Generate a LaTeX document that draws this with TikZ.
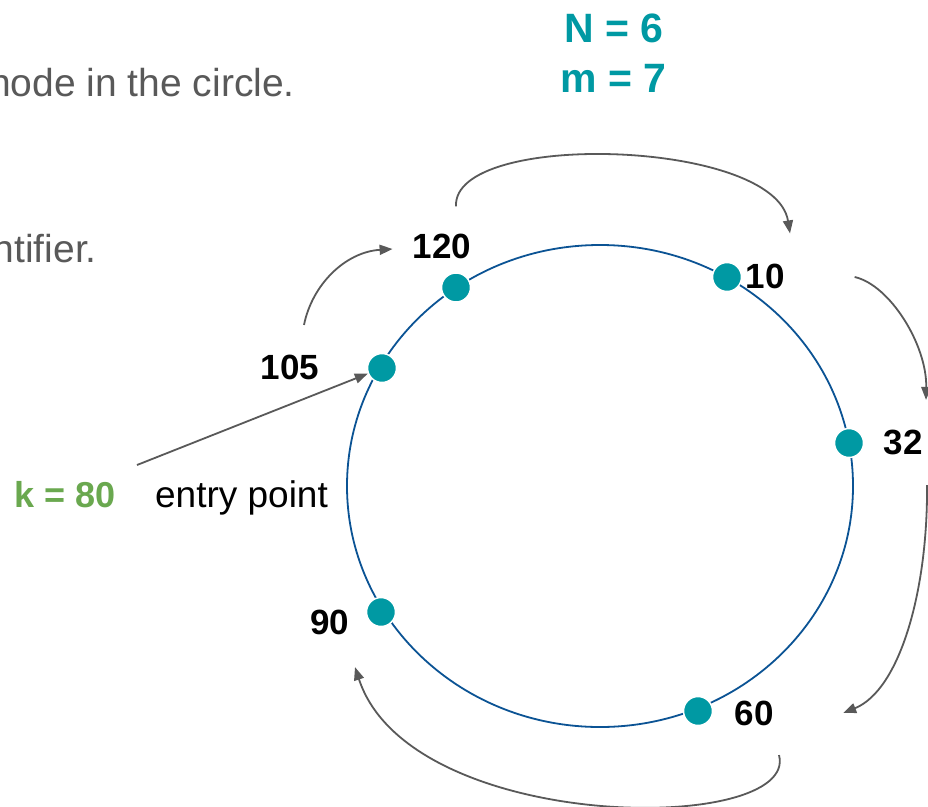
\documentclass[tikz,border=0pt]{standalone}
\usepackage{fontspec}
\setmainfont{Liberation Sans}
\usetikzlibrary{arrows.meta,calc}
\definecolor{dotteal}{HTML}{0099A3}
\definecolor{ringblue}{HTML}{0B5394}
\definecolor{keygreen}{HTML}{6AA84F}
\definecolor{textgray}{HTML}{595959}
\definecolor{arrowgray}{HTML}{595959}
\tikzset{
  dotnode/.style={circle, fill=dotteal, draw=white, line width=1.5pt, minimum size=29pt, inner sep=0pt},
  idlabel/.style={font=\fontsize{35}{35}\selectfont\bfseries, inner sep=0pt, text=black},
  paramtext/.style={font=\fontsize{41}{41}\selectfont\bfseries, inner sep=0pt, text=dotteal, anchor=base},
  graytext/.style={font=\fontsize{39}{39}\selectfont, inner sep=0pt, text=textgray, anchor=base east},
  link/.style={draw=arrowgray, line width=1.8pt, -{Triangle[length=13pt,width=10pt]}},
  ring/.style={draw=ringblue, line width=1.8pt}
}
\begin{document}
\begin{tikzpicture}[x=1pt,y=-1pt]
\useasboundingbox (0,0) rectangle (928,806);
\fill[white] (0,0) rectangle (928,806);

% background text (clipped at the left edge)
\node[graytext] (txtA) at (295,96) {node in the circle.};
\node[graytext] (txtB) at (97,262) {ntifier.};

% parameters
\node[paramtext] (pN) at (614,42) {N = 6};
\node[paramtext] (pm) at (613.5,92) {m = 7};

% ring
\draw[ring] (600,486) ellipse [x radius=253pt, y radius=241pt];

% nodes on the ring
\node[dotnode] (d120) at (456,287.5) {};
\node[dotnode] (d10)  at (727,277) {};
\node[dotnode] (d32)  at (849,443) {};
\node[dotnode] (d60)  at (698,711) {};
\node[dotnode] (d90)  at (381,612) {};
\node[dotnode] (d105) at (382,368) {};

% labels
\node[idlabel] (l120) at (442,246) {120};
\node[idlabel] (l10)  at (765,276) {10};
\node[idlabel] (l32)  at (903,442) {32};
\node[idlabel] (l60)  at (754,713) {60};
\node[idlabel] (l90)  at (330,622) {90};
\node[idlabel] (l105) at (290,367) {105};

% key and entry point
\node[font=\fontsize{36}{36}\selectfont\bfseries, text=keygreen, inner sep=0pt, anchor=base] (key) at (65.5,507) {k = 80};
\node[font=\fontsize{37}{37}\selectfont, text=black, inner sep=0pt, anchor=base] (entry) at (241.5,507) {entry point};
\coordinate (tail) at (137,465);
\draw[link] (tail) -- (d105);

% successor arrows
\draw[link] ($(l105.north)+(14,-29.5)$) .. controls (312,285) and (345,252) .. ($(l120.west)+(-20,3)$);
\draw[link] ($(l120.north)+(14,-27)$) .. controls (452,130) and (775,139) .. ($(l10.north)+(25,-30)$);
\draw[link] ($(l10.east)+(70,1)$) .. controls (890,285) and (927,345) .. ($(l32.north)+(23,-29.5)$);
\draw[link] ($(l32.south)+(24,30.5)$) .. controls (928,590) and (900,690) .. ($(l60.east)+(69.5,0)$);
\draw[link] ($(l60.south)+(25,29.5)$) .. controls (800,835) and (410,835) .. ($(l90.south)+(25,32.5)$);
\end{tikzpicture}
\end{document}
